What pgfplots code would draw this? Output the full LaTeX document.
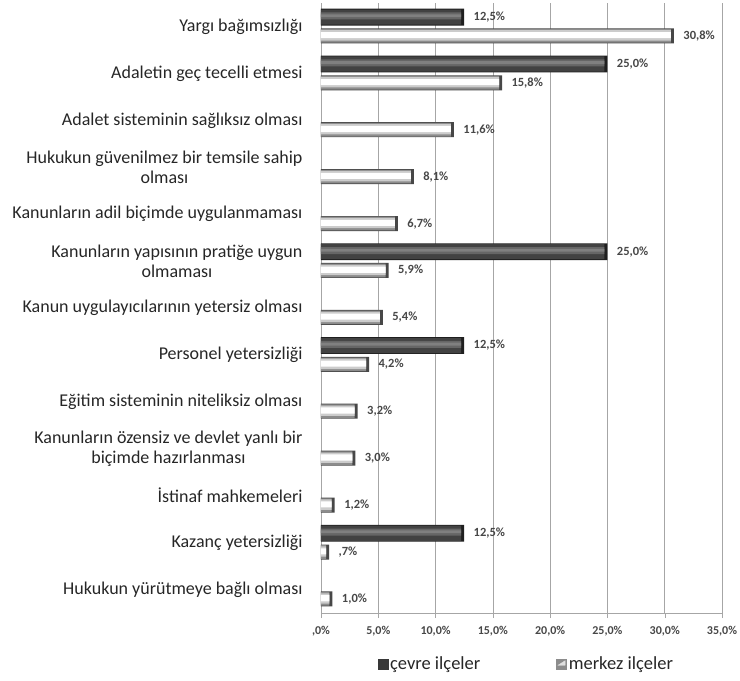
\documentclass[border=0pt]{standalone}
\usepackage{fontspec}
\setmainfont{Carlito}
\usepackage{pgfplots}
\usepackage{pgfplotstable}
\pgfplotsset{compat=1.18}
\definecolor{txt}{HTML}{262626}
\definecolor{gridc}{HTML}{A6A6A6}
% çevre ilçeler (categories 0..12 from top)
\pgfplotstableread{
c v lab
0 12.5 12,5\%
1 25.0 25,0\%
5 25.0 25,0\%
7 12.5 12,5\%
11 12.5 12,5\%
}\cevre
% merkez ilçeler
\pgfplotstableread{
c v lab
0 30.8 30,8\%
1 15.8 15,8\%
2 11.6 11,6\%
3 8.1 8,1\%
4 6.7 6,7\%
5 5.9 5,9\%
6 5.4 5,4\%
7 4.2 4,2\%
8 3.2 3,2\%
9 3.0 3,0\%
10 1.2 1,2\%
11 0.7 ,7\%
12 1.0 1,0\%
}\merkez
\pgfplotsset{
  layer/.style={xbar, forget plot, draw=none},
}
\begin{document}
\begin{tikzpicture}
\begin{axis}[
  name=ax,
  scale only axis,
  width=401pt, height=610pt,
  xmin=0, xmax=35,
  ymin=-0.5, ymax=12.5,
  y dir=reverse,
  axis x line*=bottom,
  axis y line*=left,
  axis line style={draw=gridc},
  xtick={0,5,...,35},
  xticklabels={{,0\%},{5,0\%},{10,0\%},{15,0\%},{20,0\%},{25,0\%},{30,0\%},{35,0\%}},
  xticklabel style={font=\fontsize{12}{14}\selectfont\bfseries, text=txt!85, yshift=-5pt},
  xmajorgrids,
  grid style={draw=gridc, line width=0.6pt},
  tick style={draw=gridc},
  tick align=outside,
  major tick length=5pt,
  ytick={0,...,12},
  yticklabels={
    {Yargı bağımsızlığı},
    {Adaletin geç tecelli etmesi},
    {Adalet sisteminin sağlıksız olması},
    {Hukukun güvenilmez bir temsile sahip\\olması},
    {Kanunların adil biçimde uygulanmaması},
    {Kanunların yapısının pratiğe uygun\\olmaması},
    {Kanun uygulayıcılarının yetersiz olması},
    {Personel yetersizliği},
    {Eğitim sisteminin niteliksiz olması},
    {Kanunların özensiz ve devlet yanlı bir\\biçimde hazırlanması},
    {İstinaf mahkemeleri},
    {Kazanç yetersizliği},
    {Hukukun yürütmeye bağlı olması}},
  yticklabel style={font=\fontsize{18}{20}\selectfont, text=txt, align=center, xshift=-10pt},
  ytick style={draw=none},
  extra y ticks={-0.5,0.5,...,12.5},
  extra y tick labels={},
  extra y tick style={major tick length=5pt, tick style={draw=gridc}, grid=none},
  every node near coord/.append style={font=\fontsize{12.5}{14}\selectfont\bfseries, text=txt!85, anchor=west, xshift=6pt},
  legend style={at={(0.512,-0.084)}, anchor=center, draw=none, fill=none,
    legend columns=2, font=\fontsize{18.5}{20}\selectfont, text=txt,
    /tikz/every even column/.append style={column sep=74pt}},
  legend cell align=left,
]
\addlegendimage{legend image code/.code={\fill[black!78] (0pt,-5pt) rectangle (10pt,5pt);}}
\addlegendentry{çevre ilçeler}
\addlegendimage{legend image code/.code={\fill[black!45] (0pt,-5pt) rectangle (10pt,5pt);\fill[black!12] (1.5pt,-1pt) -- (8.5pt,3.5pt) -- (8.5pt,-1pt) -- cycle;}}
\addlegendentry{merkez ilçeler}
% ---- çevre ilçeler: layered bars (cap, body, highlight)
\addplot[layer, bar shift=-0.2, bar width=0.36, fill=black!88] table[x=v, y=c] {\cevre};
\addplot[layer, bar shift=-0.2, bar width=0.32, fill=black!74, /tikz/xshift=-3pt] table[x=v, y=c] {\cevre};
\addplot[layer, bar shift=-0.225, bar width=0.15, fill=black!60, /tikz/xshift=-3pt] table[x=v, y=c] {\cevre};
\addplot[layer, bar shift=-0.23, bar width=0.06, fill=black!50, /tikz/xshift=-3pt,
  nodes near coords, point meta=explicit symbolic,
  every node near coord/.append style={/tikz/xshift=3pt, yshift=9.4pt}]
  table[x=v, y=c, meta=lab] {\cevre};
% ---- merkez ilçeler: layered bars (cap, body, light, highlight)
\addplot[layer, bar shift=0.2, bar width=0.32, fill=black!72] table[x=v, y=c] {\merkez};
\addplot[layer, bar shift=0.2, bar width=0.29, fill=black!45, /tikz/xshift=-3pt] table[x=v, y=c] {\merkez};
\addplot[layer, bar shift=0.19, bar width=0.22, fill=black!20, /tikz/xshift=-3pt] table[x=v, y=c] {\merkez};
\addplot[layer, bar shift=0.185, bar width=0.13, fill=white, /tikz/xshift=-3pt,
  nodes near coords, point meta=explicit symbolic,
  every node near coord/.append style={/tikz/xshift=3pt, yshift=-9.4pt}]
  table[x=v, y=c, meta=lab] {\merkez};
\end{axis}
\pgfresetboundingbox
\path ([xshift=-321pt,yshift=3pt]ax.north west) rectangle ([xshift=18pt,yshift=-67pt]ax.south east);
\end{tikzpicture}
\end{document}
